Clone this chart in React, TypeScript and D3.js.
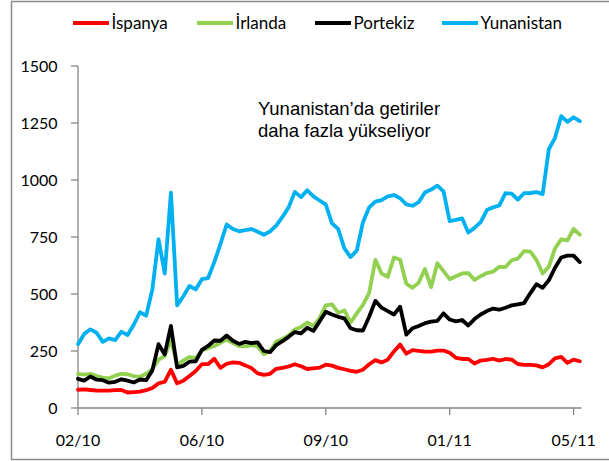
import React, { useEffect, useRef } from 'react';
import * as d3 from 'd3';

// sampled every 4 trading days, Feb 2010 - May 2011 (bp)
const ispanya = [
  80, 82, 79, 76, 76, 76, 78, 79, 68, 70,
  72, 78, 88, 108, 115, 168, 108, 120, 140, 162,
  192, 192, 216, 176, 194, 200, 198, 187, 175, 152,
  145, 150, 172, 176, 182, 192, 183, 171, 174, 177,
  190, 186, 176, 170, 163, 159, 168, 192, 210, 200,
  212, 248, 278, 238, 254, 251, 247, 247, 252, 252,
  242, 220, 215, 215, 195, 208, 211, 216, 208, 215,
  212, 193, 189, 189, 187, 178, 192, 218, 224, 198,
  212, 205
];

const irlanda = [
  150, 146, 150, 140, 133, 130, 142, 150, 148, 140,
  137, 150, 170, 212, 228, 300, 190, 208, 224, 218,
  252, 262, 272, 286, 300, 285, 272, 270, 276, 270,
  236, 250, 292, 303, 318, 344, 355, 375, 360, 395,
  450, 455, 418, 428, 375, 415, 452, 505, 650, 590,
  575, 660, 650, 545, 527, 550, 610, 530, 635, 600,
  565, 578, 590, 592, 562, 578, 592, 598, 619, 618,
  648, 655, 688, 686, 650, 590, 620, 700, 740, 735,
  785, 760
];

const portekiz = [
  128, 120, 138, 124, 122, 111, 115, 126, 120, 112,
  125, 122, 165, 280, 235, 360, 178, 185, 203, 205,
  255, 272, 296, 295, 318, 295, 281, 290, 285, 288,
  250, 245, 276, 293, 312, 333, 327, 352, 338, 380,
  422, 410, 400, 393, 350, 341, 340, 400, 470, 440,
  425, 410, 444, 322, 350, 360, 372, 379, 382, 415,
  388, 380, 386, 362, 390, 410, 425, 436, 431, 440,
  450, 455, 460, 503, 543, 527, 560, 615, 660, 668,
  668, 640
];

const yunanistan = [
  280, 325, 345, 330, 290, 305, 298, 335, 320, 365,
  420, 405, 520, 740, 590, 945, 450, 490, 535, 520,
  565, 570, 640, 720, 805, 785, 775, 780, 785, 773,
  760, 775, 800, 838, 880, 948, 925, 955, 928, 910,
  892, 810, 785, 700, 662, 690, 815, 880, 905, 912,
  928, 934, 920, 893, 887, 903, 945, 958, 975, 950,
  820, 825, 832, 770, 790, 815, 868, 880, 888, 942,
  940, 914, 942, 943, 947, 938, 1135, 1185, 1280, 1255,
  1275, 1258
];

const seriesNames = ['İspanya', 'İrlanda', 'Portekiz', 'Yunanistan'];
const seriesColors = ['#ff0000', '#92d050', '#000000', '#00b0f0'];
const tickLabels = ['02/10', '06/10', '09/10', '01/11', '05/11'];
const tickEvery = 20;
const yTicks = [0, 250, 500, 750, 1000, 1250, 1500];
const note = ['Yunanistan\u2019da getiriler', 'daha fazla yükseliyor'];

const App: React.FC = () => {
  const svgRef = useRef<SVGSVGElement>(null);

  useEffect(() => {
    if (!svgRef.current) return;
    const width = 609;
    const height = 461;
    const font = 'Lato, "Open Sans", sans-serif';

    const svg = d3.select(svgRef.current);
    svg.selectAll('*').remove();
    svg.attr('width', width).attr('height', height);

    svg.append('rect')
      .attr('width', width).attr('height', height).attr('fill', '#fff');

    // outer frame
    svg.append('rect')
      .attr('x', 11.5).attr('y', 1.5)
      .attr('width', 610).attr('height', 458)
      .attr('fill', 'none')
      .attr('stroke', '#8c8c8c')
      .attr('stroke-width', 1.5);

    const allSeries = [ispanya, irlanda, portekiz, yunanistan];
    const n = ispanya.length;

    const x = d3.scaleLinear().domain([0, tickEvery * 4]).range([78, 573.6]);
    const y = d3.scaleLinear().domain([0, 1500]).range([408, 66]);

    const axisColor = '#868686';

    // y axis
    const yAxis = svg.append('g');
    yAxis.append('line')
      .attr('x1', x(0)).attr('x2', x(0))
      .attr('y1', y(1500)).attr('y2', y(0))
      .attr('stroke', axisColor).attr('stroke-width', 1.3);
    yAxis.selectAll('line.tick')
      .data(yTicks)
      .enter()
      .append('line')
      .attr('class', 'tick')
      .attr('x1', x(0) - 7).attr('x2', x(0))
      .attr('y1', d => y(d)).attr('y2', d => y(d))
      .attr('stroke', axisColor).attr('stroke-width', 1.3);
    yAxis.selectAll('text')
      .data(yTicks)
      .enter()
      .append('text')
      .attr('x', 57.5)
      .attr('y', d => y(d))
      .attr('dy', '0.35em')
      .attr('text-anchor', 'end')
      .attr('font-family', font)
      .attr('font-size', 16)
      .attr('fill', '#000')
      .text(d => d);

    // x axis
    const xAxis = svg.append('g');
    xAxis.append('line')
      .attr('x1', x(0)).attr('x2', x(n - 1) + 1.5)
      .attr('y1', y(0)).attr('y2', y(0))
      .attr('stroke', axisColor).attr('stroke-width', 1.3);
    xAxis.selectAll('line.tick')
      .data(tickLabels)
      .enter()
      .append('line')
      .attr('class', 'tick')
      .attr('x1', (d, i) => x(i * tickEvery)).attr('x2', (d, i) => x(i * tickEvery))
      .attr('y1', y(0)).attr('y2', y(0) + 7)
      .attr('stroke', axisColor).attr('stroke-width', 1.3);
    xAxis.selectAll('text')
      .data(tickLabels)
      .enter()
      .append('text')
      .attr('x', (d, i) => x(i * tickEvery))
      .attr('y', 440)
      .attr('dy', '0.35em')
      .attr('text-anchor', 'middle')
      .attr('font-family', font)
      .attr('font-size', 16)
      .attr('fill', '#000')
      .text(d => d);

    // lines
    const line = d3.line<number>()
      .x((d, i) => x(i))
      .y(d => y(d));

    svg.append('g')
      .selectAll('path')
      .data(allSeries)
      .enter()
      .append('path')
      .attr('d', d => line(d))
      .attr('fill', 'none')
      .attr('stroke', (d, i) => seriesColors[i])
      .attr('stroke-width', 3.8)
      .attr('stroke-linejoin', 'round')
      .attr('stroke-linecap', 'round');

    // legend
    const legendX = [73, 197, 315, 442];
    const legend = svg.append('g')
      .selectAll('g')
      .data(seriesNames)
      .enter()
      .append('g')
      .attr('transform', (d, i) => `translate(${legendX[i]},23)`);
    legend.append('line')
      .attr('x1', 0).attr('x2', 36)
      .attr('stroke', (d, i) => seriesColors[i])
      .attr('stroke-width', 4);
    legend.append('text')
      .attr('x', 38.5)
      .attr('dy', '0.35em')
      .attr('font-family', font)
      .attr('font-size', 17)
      .attr('fill', '#000')
      .text(d => d);

    // annotation
    svg.append('text')
      .attr('font-family', '"Liberation Sans", Arial, sans-serif')
      .attr('font-size', 18.5)
      .attr('fill', '#000')
      .selectAll('tspan')
      .data(note)
      .enter()
      .append('tspan')
      .attr('x', 258)
      .attr('y', (d, i) => 115 + i * 21.7)
      .text(d => d);
  }, []);

  return (
    <div style={{ position: 'absolute', left: 0, top: 0 }}>
      <svg ref={svgRef}></svg>
    </div>
  );
};

export default App;
